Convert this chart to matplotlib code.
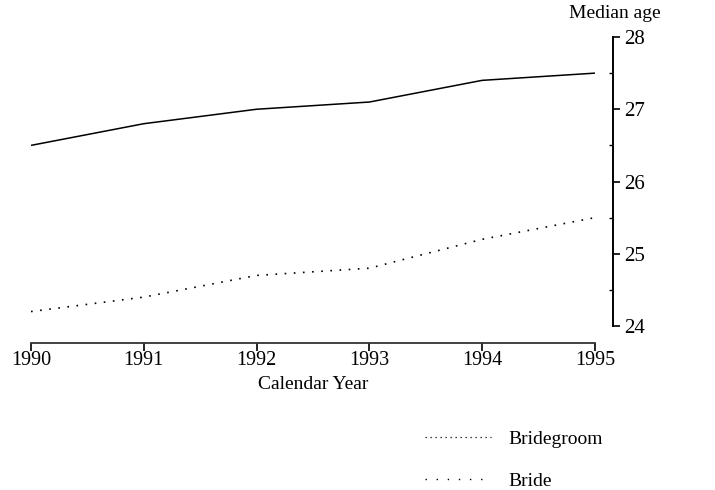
import matplotlib
matplotlib.use("Agg")
import matplotlib.pyplot as plt
from matplotlib.lines import Line2D

plt.rcParams["font.family"] = ["Liberation Serif", "DejaVu Serif"]

years = [1990, 1991, 1992, 1993, 1994, 1995]
bridegroom = [26.5, 26.8, 27.0, 27.1, 27.4, 27.5]   # solid line
bride = [24.2, 24.4, 24.7, 24.8, 25.2, 25.5]        # dotted line

yticks = [24, 25, 26, 27, 28]
xticks = years

fig = plt.figure(figsize=(7.15, 4.9), dpi=100)
ax = fig.add_axes([31 / 715, 1 - 326 / 490, (595 - 31) / 715, (326 - 37) / 490])

ax.plot(years, bridegroom, color="black", lw=1.1, solid_capstyle="butt")
ax.plot(years, bride, color="black", lw=1.2, linestyle=(0, (1, 4.5)))

ax.set_xlim(1990, 1995)
ax.set_ylim(24, 28)

# axis layout: y on the right, both spines pushed outward
ax.spines["top"].set_visible(False)
ax.spines["left"].set_visible(False)
ax.spines["right"].set_position(("outward", 13))
ax.spines["bottom"].set_position(("outward", 12))
ax.spines["right"].set_linewidth(1.4)
ax.spines["bottom"].set_linewidth(1.3)
ax.spines["bottom"].set_color("#333333")

ax.yaxis.tick_right()
ax.set_xticks(xticks)
ax.set_xticklabels([str(y) for y in xticks])
ax.set_yticks(yticks)
ax.set_yticks([24.5, 25.5, 26.5, 27.5], minor=True)
ax.tick_params(axis="x", direction="out", length=6, width=1.2, labelsize=14.5, pad=0)
ax.tick_params(axis="y", which="major", direction="out", length=5, width=1.2, labelsize=15, pad=3)
ax.tick_params(axis="y", which="minor", direction="in", length=3, width=1.0)

ax.set_xlabel("Calendar Year", fontsize=14, labelpad=4)

fig.text(615 / 715, 1 - 14 / 490, "Median age", fontsize=14, ha="center", va="center")

handles = [
    Line2D([], [], color="black", lw=0.9, linestyle=(0, (1, 3))),
    Line2D([], [], color="black", lw=1.0, linestyle=(0, (1, 7))),
]
fig.legend(handles, ["Bridegroom", "Bride"], loc="upper left",
           bbox_to_anchor=(425 / 715, 1 - 430 / 490), frameon=False,
           fontsize=14, handlelength=3.4, handletextpad=0.9, labelspacing=1.25,
           borderaxespad=0, borderpad=0)

fig.savefig("out.png", dpi=100)
